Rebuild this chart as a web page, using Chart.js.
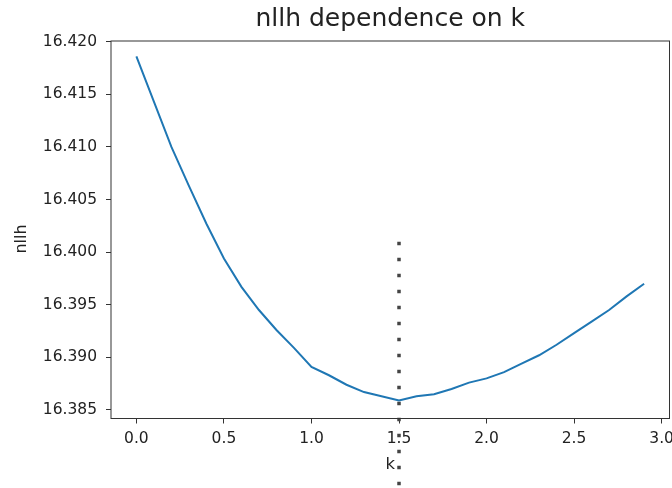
<!DOCTYPE html>
<html>
<head>
<meta charset="utf-8">
<script src="https://cdn.jsdelivr.net/npm/chart.js@4"></script>
<style>
  html, body { margin: 0; padding: 0; background: #fff; }
  #wrap { width: 672px; height: 488px; }
</style>
</head>
<body>
<div id="wrap"><canvas id="nllh_chart" width="672" height="488"></canvas></div>
<script>
// k values and the nllh
const kValues = [0.0, 0.1, 0.2, 0.3, 0.4, 0.5, 0.6, 0.7, 0.8, 0.9,
                 1.0, 1.1, 1.2, 1.3, 1.4, 1.5, 1.6, 1.7, 1.8, 1.9,
                 2.0, 2.1, 2.2, 2.3, 2.4, 2.5, 2.6, 2.7, 2.8, 2.9];
const nllhValues = [16.4186, 16.4143, 16.4100, 16.4063, 16.4027, 16.3994, 16.3967, 16.3945, 16.3926, 16.3909,
                    16.3891, 16.3883, 16.3874, 16.3867, 16.3863, 16.3859, 16.3863, 16.3865, 16.3870, 16.3876,
                    16.3880, 16.3886, 16.3894, 16.3902, 16.3912, 16.3923, 16.3934, 16.3945, 16.3958, 16.3970];

// dotted marker at the best k
const bestK = 1.5;
const markerY = [16.401, 16.377];

const xTicks = [0.0, 0.5, 1.0, 1.5, 2.0, 2.5, 3.0];
const yTicks = [16.385, 16.390, 16.395, 16.400, 16.405, 16.410, 16.415, 16.420];

const FONT = 'DejaVu Sans';
const INK = '#222';

const curve = kValues.map((k, i) => ({x: k, y: nllhValues[i]}));
const marker = markerY.map(v => ({x: bestK, y: v}));

// matplotlib-like box, title over the axes and y label
const axesDecor = {
    id: 'axesDecor',
    afterDraw(chart) {
        const {ctx, chartArea: a} = chart;
        const cx = (a.left + a.right) / 2;
        ctx.save();
        ctx.strokeStyle = '#333';
        ctx.lineWidth = 1;
        ctx.strokeRect(a.left, a.top, a.right - a.left, a.bottom - a.top);

        ctx.fillStyle = INK;
        ctx.textAlign = 'center';
        ctx.textBaseline = 'middle';
        ctx.font = `25px "${FONT}"`;
        ctx.fillText('nllh dependence on k', cx, 19);

        ctx.font = `16px "${FONT}"`;
        ctx.translate(22, 239);
        ctx.rotate(-Math.PI / 2);
        ctx.fillText('nllh', 0, 0);
        ctx.restore();
    }
};

const ctx = document.getElementById('nllh_chart').getContext('2d');
new Chart(ctx, {
    type: 'line',
    data: {
        datasets: [
            {
                data: curve,
                borderColor: '#1f77b4',
                borderWidth: 2,
                pointRadius: 0,
                tension: 0,
                fill: false
            },
            {
                data: marker,
                borderColor: '#444',
                borderWidth: 3.5,
                borderDash: [3.5, 12.5],
                borderCapStyle: 'butt',
                pointRadius: 0,
                fill: false,
                clip: false
            }
        ]
    },
    options: {
        responsive: false,
        animation: false,
        layout: { padding: { left: 0, right: 2.5, top: 41, bottom: 0 } },
        plugins: {
            legend: { display: false },
            tooltip: { enabled: false },
            title: { display: false }
        },
        scales: {
            x: {
                type: 'linear',
                min: -0.145,
                max: 3.045,
                border: { display: false },
                grid: { drawOnChartArea: false, drawTicks: true, tickLength: 5, color: '#333' },
                ticks: {
                    color: INK,
                    padding: 6,
                    maxRotation: 0,
                    font: { family: FONT, size: 15.5 },
                    callback: v => v.toFixed(1)
                },
                afterBuildTicks: s => { s.ticks = xTicks.map(v => ({value: v})); },
                afterFit: s => { s.height = 69.5; s.paddingLeft = 0; s.paddingRight = 0; },
                title: {
                    display: true,
                    text: 'k',
                    color: INK,
                    font: { family: FONT, size: 16.5 },
                    padding: { top: 0, bottom: 13 }
                }
            },
            y: {
                type: 'linear',
                min: 16.38419,
                max: 16.42007,
                border: { display: false },
                grid: { drawOnChartArea: false, drawTicks: true, tickLength: 5, color: '#333' },
                ticks: {
                    color: INK,
                    padding: 9,
                    font: { family: FONT, size: 15.5 },
                    callback: v => v.toFixed(3)
                },
                afterBuildTicks: s => { s.ticks = yTicks.map(v => ({value: v})); },
                afterFit: s => { s.width = 111; s.paddingTop = 0; s.paddingBottom = 0; }
            }
        }
    },
    plugins: [axesDecor]
});
</script>
</body>
</html>
